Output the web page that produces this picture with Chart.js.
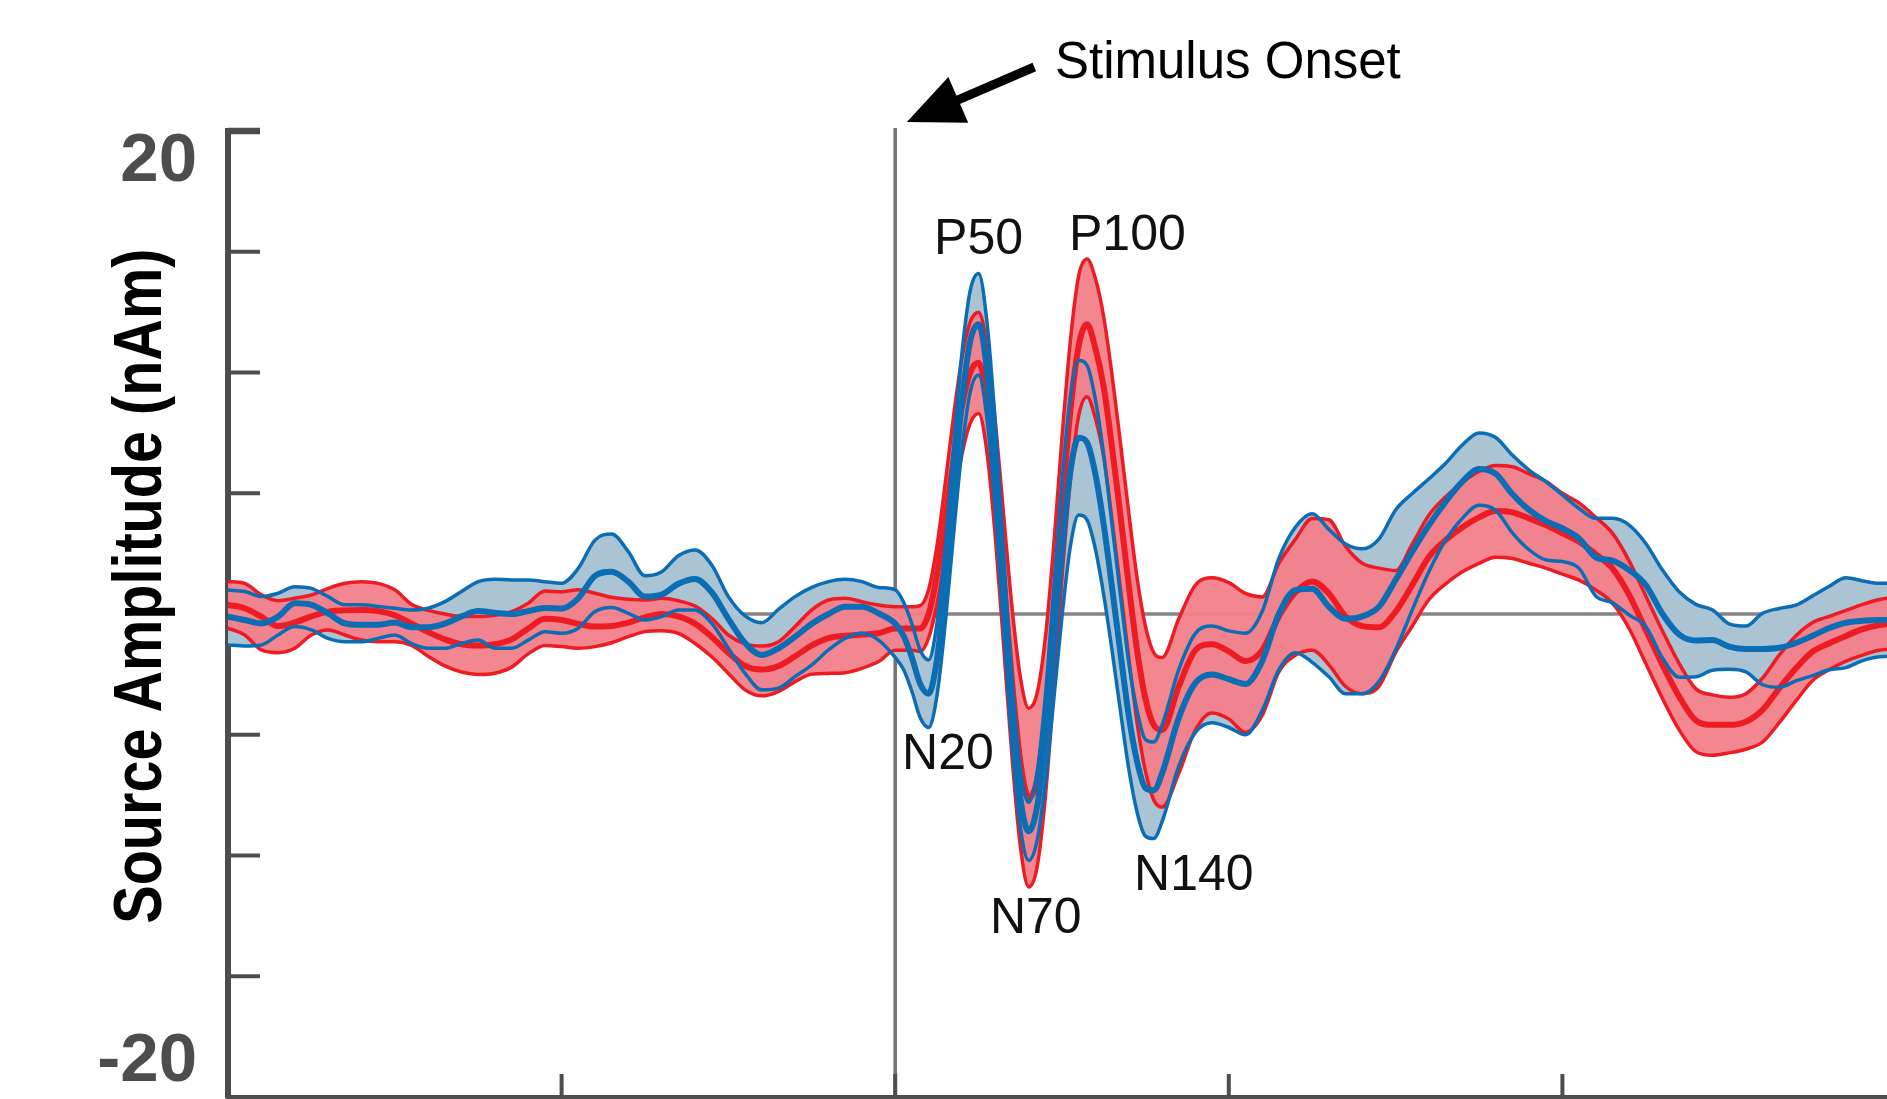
<!DOCTYPE html>
<html>
<head>
<meta charset="utf-8">
<style>
html,body{margin:0;padding:0;background:#fff;overflow:hidden;}
canvas{display:block;}
</style>
<script src="https://cdn.jsdelivr.net/npm/chart.js@4.4.1/dist/chart.umd.min.js"></script>
</head>
<body>
<canvas id="c" width="1900" height="1099" style="width:1900px;height:1099px"></canvas>
<script>
// ---------------- data ----------------
const timeMs = [-400,-390,-380,-370,-360,-350,-340,-330,-320,-310,-300,-290,-280,-270,-260,-250,-240,-230,-220,-210,
  -200,-190,-180,-170,-160,-150,-140,-130,-120,-110,-100,-90,-80,-70,-60,-50,-40,-30,-20,-10,
  0,5,10,15,20,25,30,35,40,45,50,55,60,65,70,75,80,85,90,95,100,105,110,115,120,125,130,135,140,145,150,155,160,
  170,180,190,200,210,220,230,240,250,260,270,280,290,300,310,320,330,340,350,360,370,380,390,400,
  410,420,430,440,450,460,470,480,490,500,510,520,530,540,550,560,570,580,590,600];

const blueUpper = [0.99,0.93,0.72,0.86,1.13,1.06,0.72,0.38,0.38,0.31,0.24,0.17,0.24,0.51,0.93,1.34,1.44,1.41,1.41,1.34,
  1.27,1.89,3.06,3.31,2.58,1.58,1.75,2.41,2.65,2.03,0.72,-0.08,-0.36,0.19,0.72,1.1,1.34,1.44,1.34,1.1,
  1.0,0.5,-0.4,-1.5,-1.9,-0.4,2.8,6.9,10.8,13.4,14.1,12.1,7.9,2.5,-2.7,-6.4,-7.8,-6.6,-3.4,1.0,5.5,9.0,10.5,10.3,8.9,6.6,3.7,0.8,-2.0,-4.0,-5.2,-5.3,-4.6,
  -2.3,-0.8,-0.5,-0.7,-0.8,0.1,2.3,3.6,4.15,3.5,2.9,2.7,3.1,4.31,4.99,5.6,6.24,7.0,7.5,7.31,6.58,5.96,5.48,4.93,
  4.37,3.96,3.96,3.68,2.92,1.82,0.92,0.4,0.17,-0.41,-0.5,0.03,0.23,0.37,0.75,1.15,1.5,1.37,1.27,1.3];
const blueMean = [-0.11,-0.25,-0.39,-0.11,0.44,0.38,0.03,-0.39,-0.45,-0.45,-0.35,-0.55,-0.55,-0.4,-0.1,0.12,0.05,0.0,0.12,0.25,
  0.23,0.65,1.58,1.75,1.34,0.72,0.8,1.25,1.45,0.9,-0.2,-1.2,-1.7,-1.42,-0.94,-0.4,0.0,0.3,0.3,0.03,
  -0.4,-0.9,-1.8,-2.9,-3.3,-1.9,1.2,5.1,8.8,11.3,12.0,10.1,6.1,1.0,-4.0,-7.6,-9.0,-8.0,-5.2,-1.3,2.7,5.9,7.3,7.1,5.8,3.7,1.1,-1.6,-4.2,-6.1,-7.2,-7.3,-6.6,
  -4.3,-2.85,-2.5,-2.7,-2.9,-1.95,0.0,1.0,1.05,0.3,-0.2,-0.1,0.3,1.41,2.58,3.68,4.65,5.48,6.0,5.8,4.97,4.31,3.86,3.55,
  3.13,2.35,2.21,1.82,1.2,0.0,-0.85,-1.1,-1.08,-1.35,-1.45,-1.45,-1.4,-1.2,-0.9,-0.58,-0.36,-0.28,-0.25,-0.25];
const blueLower = [-1.28,-1.32,-1.28,-0.87,-0.52,-0.66,-1.01,-1.15,-1.15,-1.01,-0.87,-1.22,-1.42,-1.42,-1.22,-1.08,-1.42,-1.42,-1.08,-0.73,
  -0.8,-0.59,0.1,0.27,0.03,-0.25,-0.11,0.17,0.17,-0.39,-1.42,-2.46,-3.14,-3.07,-2.59,-2.11,-1.49,-1.01,-0.8,-1.08,
  -1.8,-2.3,-3.2,-4.3,-4.7,-3.4,-0.4,3.3,6.8,9.2,9.9,8.1,4.3,-0.5,-5.3,-8.8,-10.2,-9.4,-7.0,-3.6,-0.1,2.8,4.1,3.9,2.7,0.8,-1.5,-4.0,-6.4,-8.2,-9.2,-9.3,-8.6,
  -6.3,-4.9,-4.5,-4.7,-5.0,-4.0,-2.3,-1.6,-2.0,-2.6,-3.3,-3.3,-2.8,-1.49,0.17,1.76,3.06,3.96,4.5,4.29,3.36,2.66,2.24,2.17,
  1.89,0.74,0.46,-0.04,-0.52,-1.82,-2.62,-2.6,-2.33,-2.29,-2.4,-2.93,-3.03,-2.77,-2.55,-2.31,-2.22,-1.93,-1.77,-1.75];

const redUpper = [1.34,1.27,0.79,0.55,0.65,0.79,1.06,1.27,1.34,1.27,1.0,0.4,0.15,0.0,-0.1,-0.1,-0.05,0.1,0.45,0.95,
  0.92,1.0,0.86,0.69,0.61,0.58,0.65,0.55,0.33,-0.18,-0.87,-1.24,-1.33,-1.15,-0.52,0.17,0.58,0.65,0.51,0.37,
  0.3,0.3,0.3,0.35,1.0,2.8,5.4,8.2,10.6,12.1,12.5,11.1,8.0,4.1,0.3,-2.6,-3.9,-3.3,-1.0,2.8,7.3,11.3,14.0,14.7,13.9,12.3,9.9,7.1,4.2,1.5,-0.5,-1.6,-1.8,
  -0.2,1.2,1.5,1.3,0.85,0.7,2.1,3.1,3.95,3.9,2.8,2.1,1.9,1.8,2.9,4.1,4.85,5.45,5.9,6.15,6.1,5.8,5.5,5.0,
  4.6,4.0,3.35,2.2,0.75,-0.7,-2.05,-3.1,-3.35,-3.45,-3.3,-2.65,-1.7,-0.9,-0.35,-0.1,0.15,0.4,0.6,0.7];
const redMean = [0.38,0.24,-0.11,-0.5,-0.35,-0.1,0.1,0.15,0.17,0.12,-0.05,-0.4,-0.75,-1.05,-1.25,-1.3,-1.25,-1.05,-0.6,-0.2,
  -0.25,-0.41,-0.52,-0.5,-0.36,-0.14,0.0,-0.1,-0.4,-0.95,-1.6,-2.15,-2.3,-2.15,-1.75,-1.3,-1.0,-0.9,-0.85,-0.8,
  -0.6,-0.6,-0.6,-0.6,0.0,1.6,3.9,6.4,8.6,10.0,10.4,8.9,5.6,1.4,-2.8,-6.1,-7.6,-6.9,-4.3,-0.2,4.4,8.4,11.1,12.0,11.0,9.4,6.9,4.1,1.2,-1.5,-3.5,-4.6,-4.8,
  -3.0,-1.5,-1.25,-1.55,-1.95,-1.5,-0.1,0.9,1.35,0.85,-0.1,-0.5,-0.55,0.1,1.2,2.37,3.06,3.59,4.0,4.26,4.21,3.96,3.68,3.34,
  2.99,2.48,1.89,0.79,-0.66,-2.11,-3.42,-4.41,-4.59,-4.59,-4.46,-3.97,-3.08,-2.25,-1.56,-1.21,-0.91,-0.63,-0.46,-0.4];
const redLower = [-0.59,-0.87,-1.49,-1.6,-1.42,-0.87,-0.66,-0.87,-1.08,-1.15,-1.15,-1.3,-1.75,-2.15,-2.4,-2.5,-2.45,-2.2,-1.65,-1.3,
  -1.35,-1.42,-1.35,-1.19,-0.94,-0.73,-0.69,-0.8,-1.22,-1.77,-2.46,-3.14,-3.39,-3.21,-2.8,-2.49,-2.46,-2.43,-2.25,-1.97,
  -1.5,-1.5,-1.5,-1.55,-1.0,0.4,2.4,4.6,6.6,7.9,8.3,6.7,3.2,-1.3,-5.9,-9.6,-11.3,-10.5,-7.6,-3.2,1.5,5.5,8.2,9.0,8.1,6.5,3.9,1.1,-1.8,-4.5,-6.5,-7.7,-8.0,
  -6.6,-4.8,-4.1,-4.35,-4.9,-4.2,-2.4,-1.7,-1.5,-2.1,-3.0,-3.3,-3.0,-1.6,-0.5,0.6,1.25,1.75,2.1,2.35,2.3,2.1,1.9,1.65,
  1.4,1.0,0.45,-0.6,-2.05,-3.5,-4.8,-5.7,-5.85,-5.75,-5.6,-5.3,-4.5,-3.6,-2.75,-2.3,-1.95,-1.7,-1.5,-1.45];

const yTickValues = [-20,-15,-10,-5,0,5,10,15,20];
const yTickLabels = ['-20','20'];
const xTickValues = [-400,-200,0,200,400,600];
const peakLabels = ['N20','P50','N70','P100','N140'];
const axisTitle = 'Source Amplitude (nAm)';
const onsetLabel = 'Stimulus Onset';

// ---------------- styling ----------------
const RED = '#ed1c24';
const BLUE = '#0b6db4';
const RED_FILL = 'rgba(243,128,138,0.95)';
const BLUE_FILL = '#abc4d4';
const AXIS = '#4d4d4d';
const FONT = "'Liberation Sans', Arial, sans-serif";

const pts = arr => arr.map((v, i) => ({x: timeMs[i], y: v}));

const annot = {
  peakAnchors: [[4.1,-6.42],[23.3,14.9],[56.8,-13.2],[104.2,15.07],[143.2,-11.43]],
  onsetAnchor: [95.8, 22.19],
  arrowTail: [83.4, 22.65],
  arrowTip: [7.0, 20.37]
};

const decor = {
  id: 'decor',
  beforeDraw(chart) {
    const {ctx, chartArea: a, scales: {x, y}} = chart;
    ctx.save();
    const y0 = y.getPixelForValue(0);
    ctx.strokeStyle = '#858585'; ctx.lineWidth = 3.5;
    ctx.beginPath(); ctx.moveTo(a.left, y0); ctx.lineTo(a.right, y0); ctx.stroke();
    const x0 = x.getPixelForValue(0);
    ctx.strokeStyle = '#737373'; ctx.lineWidth = 3.5;
    ctx.beginPath(); ctx.moveTo(x0, a.top - 3); ctx.lineTo(x0, a.bottom); ctx.stroke();
    ctx.strokeStyle = AXIS;
    yTickValues.forEach(v => {
      const py = y.getPixelForValue(v);
      ctx.lineWidth = (v === 20) ? 6.5 : 4;
      ctx.beginPath(); ctx.moveTo(a.left, py); ctx.lineTo(a.left + 32, py); ctx.stroke();
    });
    ctx.lineWidth = 4;
    xTickValues.forEach(v => {
      const px = x.getPixelForValue(v);
      ctx.beginPath(); ctx.moveTo(px, a.bottom); ctx.lineTo(px, a.bottom - 23); ctx.stroke();
    });
    ctx.restore();
  },
  afterDraw(chart) {
    const {ctx, chartArea: a, scales: {x, y}} = chart;
    const P = (t, v) => [x.getPixelForValue(t), y.getPixelForValue(v)];
    ctx.save();
    ctx.font = 'bold 68px ' + FONT;
    const m = ctx.measureText(axisTitle);
    const ink = m.actualBoundingBoxLeft + m.actualBoundingBoxRight;
    const sx = 672 / ink;
    ctx.translate(a.left - 86, y.getPixelForValue(1.15));
    ctx.rotate(-Math.PI / 2);
    ctx.scale(sx, 1);
    ctx.fillStyle = '#000';
    ctx.textAlign = 'center'; ctx.textBaseline = 'middle';
    ctx.fillText(axisTitle, 0, 0);
    ctx.restore();

    ctx.save();
    ctx.fillStyle = '#111';
    ctx.font = '50px ' + FONT;
    ctx.textAlign = 'left'; ctx.textBaseline = 'alphabetic';
    peakLabels.forEach((s, i) => {
      const [px, py] = P(annot.peakAnchors[i][0], annot.peakAnchors[i][1]);
      ctx.fillText(s, px, py);
    });
    ctx.font = '51px ' + FONT;
    const [ox, oy] = P(annot.onsetAnchor[0], annot.onsetAnchor[1]);
    ctx.fillStyle = '#000';
    ctx.fillText(onsetLabel, ox, oy);
    const [tx, ty] = P(annot.arrowTail[0], annot.arrowTail[1]);
    const [hx, hy] = P(annot.arrowTip[0], annot.arrowTip[1]);
    const dx = hx - tx, dy = hy - ty, L = Math.hypot(dx, dy), ux = dx / L, uy = dy / L;
    const headLen = 56, headHalf = 25;
    const bx = hx - ux * headLen, by = hy - uy * headLen;
    ctx.strokeStyle = '#000'; ctx.lineWidth = 9; ctx.lineCap = 'butt';
    ctx.beginPath(); ctx.moveTo(tx, ty); ctx.lineTo(bx + ux * 4, by + uy * 4); ctx.stroke();
    ctx.beginPath();
    ctx.moveTo(hx, hy);
    ctx.lineTo(bx - uy * headHalf, by + ux * headHalf);
    ctx.lineTo(bx + uy * headHalf, by - ux * headHalf);
    ctx.closePath(); ctx.fillStyle = '#000'; ctx.fill();
    ctx.restore();
  }
};

const noBorder = {borderWidth: 0, borderColor: 'rgba(0,0,0,0)'};

new Chart(document.getElementById('c'), {
  type: 'line',
  data: {
    datasets: [
      {data: pts(blueUpper), ...noBorder, fill: '+1', backgroundColor: BLUE_FILL, order: 20},
      {data: pts(blueLower), ...noBorder, fill: false, order: 20},
      {data: pts(redUpper), ...noBorder, fill: '+1', backgroundColor: RED_FILL, order: 19},
      {data: pts(redLower), ...noBorder, fill: false, order: 19},
      {data: pts(redUpper), borderColor: RED, borderWidth: 3.5, fill: false, order: 8},
      {data: pts(redLower), borderColor: RED, borderWidth: 3.5, fill: false, order: 8},
      {data: pts(redMean), borderColor: RED, borderWidth: 6, fill: false, order: 7},
      {data: pts(blueUpper), borderColor: BLUE, borderWidth: 3.5, fill: false, order: 6},
      {data: pts(blueLower), borderColor: BLUE, borderWidth: 3.5, fill: false, order: 6},
      {data: pts(blueMean), borderColor: BLUE, borderWidth: 6, fill: false, order: 5}
    ]
  },
  options: {
    responsive: false,
    animation: false,
    devicePixelRatio: 1,
    events: [],
    layout: {padding: {top: 131, right: 4, bottom: 0, left: 0}},
    elements: {
      point: {radius: 0},
      line: {cubicInterpolationMode: 'monotone', borderJoinStyle: 'round', borderCapStyle: 'round'}
    },
    plugins: {legend: {display: false}, tooltip: {enabled: false}, title: {display: false}},
    scales: {
      x: {
        type: 'linear', min: -400, max: 600,
        grid: {display: false, drawTicks: false},
        ticks: {display: false},
        border: {display: true, color: AXIS, width: 5},
        afterFit: s => { s.height = 2; s.paddingLeft = 0; s.paddingRight = 0; }
      },
      y: {
        type: 'linear', min: -20, max: 20,
        afterBuildTicks: s => { s.ticks = [{value: -18.55}, {value: 18.7}]; },
        ticks: {
          autoSkip: false,
          padding: 31,
          color: AXIS,
          font: {family: FONT, size: 69, weight: 'bold'},
          callback: (v, i) => yTickLabels[i]
        },
        grid: {display: false, drawTicks: false},
        border: {display: true, color: AXIS, width: 6},
        afterFit: s => { s.width = 228; s.paddingTop = 0; s.paddingBottom = 0; }
      }
    }
  },
  plugins: [decor]
});
</script>
</body>
</html>
